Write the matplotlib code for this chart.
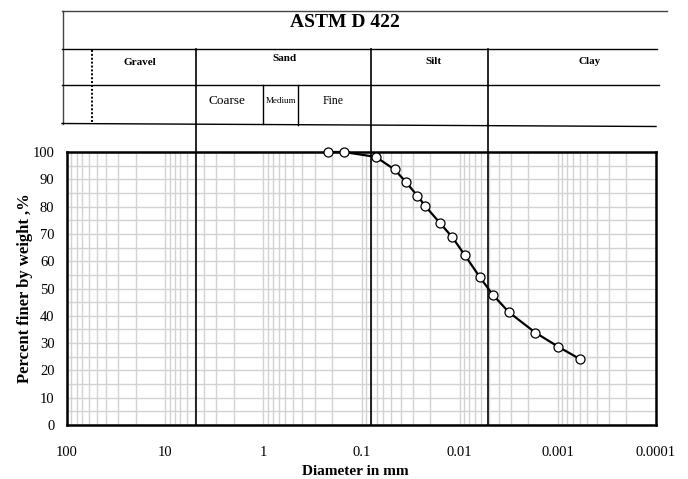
import matplotlib
matplotlib.use("Agg")
import matplotlib.pyplot as plt
from matplotlib.ticker import FixedLocator, LogLocator, NullFormatter

plt.rcParams['font.family'] = ['Liberation Serif', 'DejaVu Serif']

# hydrometer / sieve results
diameter_mm = [0.217, 0.151, 0.0715, 0.0461, 0.0351, 0.0269, 0.0223, 0.0158,
               0.0119, 0.00881, 0.00627, 0.00462, 0.00315, 0.00169, 0.000993,
               0.000593]
percent_finer = [100, 100, 98.2, 93.6, 88.9, 83.9, 80.1, 73.9,
                 68.8, 62.1, 54.3, 47.8, 41.3, 33.8, 28.7,
                 24.1]

x_ticks = [100, 10, 1, 0.1, 0.01, 0.001, 0.0001]
x_tick_labels = ['100', '10', '1', '0.1', '0.01', '0.001', '0.0001']
y_ticks = list(range(0, 101, 10))

# gravel/sand, sand/silt, silt/clay boundaries (mm)
class_limits = [4.8, 0.08, 0.0052]

W, H = 688, 479
fig = plt.figure(figsize=(W / 100, H / 100), dpi=100)

left, right, top, bottom = 67, 656, 152, 425
ax = fig.add_axes([left / W, (H - bottom) / H, (right - left) / W, (bottom - top) / H])

ax.set_xscale('log')
ax.set_xlim(100, 0.0001)
ax.set_ylim(0, 100)

ax.xaxis.set_major_locator(FixedLocator(x_ticks))
ax.set_xticklabels(x_tick_labels)
ax.xaxis.set_minor_locator(LogLocator(base=10, subs=range(2, 10), numticks=20))
ax.xaxis.set_minor_formatter(NullFormatter())
ax.set_yticks(y_ticks)
ax.set_yticks(range(5, 100, 10), minor=True)

ax.grid(which='both', color='#d2d2d2', linewidth=1.0)
ax.tick_params(which='both', length=0, labelsize=10.5)
ax.tick_params(axis='x', pad=15)
ax.tick_params(axis='y', pad=9)
for sp in ax.spines.values():
    sp.set_linewidth(1.8)

# class boundaries run up through the header table
header_top = (bottom - 48.5) / (bottom - top)
for d in class_limits:
    ax.axvline(d, 0, header_top, color='black', linewidth=1.2, clip_on=False, zorder=3)

ax.plot(diameter_mm, percent_finer, color='black', linewidth=1.6,
        marker='o', markersize=6.5, markerfacecolor='white',
        markeredgecolor='black', markeredgewidth=0.9, zorder=5, clip_on=False)

ax.set_xlabel('Diameter in mm', fontsize=11, fontweight='bold')
ax.xaxis.set_label_coords(0.49, -0.145)
ax.set_ylabel('Percent finer by weight ,%', fontsize=12, fontweight='bold')
ax.yaxis.set_label_coords(-0.058, 0.5)

# header table drawn in pixel coordinates
hdr = fig.add_axes([0, 0, 1, 1])
hdr.set_xlim(0, W)
hdr.set_ylim(H, 0)
hdr.axis('off')

def hline(x0, x1, y0, y1=None, **kw):
    hdr.plot([x0, x1], [y0, y0 if y1 is None else y1], **kw)

hline(62, 667, 10.5, color='#444444', linewidth=1.0)
hdr.plot([62.5, 62.5], [10.5, 124], color='#444444', linewidth=1.0)
hline(62, 657, 48.5, color='black', linewidth=1.0)
hline(62, 659, 84.5, color='black', linewidth=1.0)
hline(62, 656, 123.5, 126.5, color='black', linewidth=1.0)
hdr.plot([262.7, 262.7], [84.5, 124], color='black', linewidth=1.0)
hdr.plot([298.3, 298.3], [84.5, 124.5], color='black', linewidth=1.0)
hdr.plot([92.3, 92.3], [50, 123], color='black', linewidth=1.4, linestyle=(0, (1, 1)))

hdr.text(345, 22, 'ASTM D 422', ha='center', va='center', fontsize=14, fontweight='bold')
for label, x, y in [('Gravel', 140, 62.5), ('Sand', 284.7, 58.5),
                    ('Silt', 434, 61), ('Clay', 590, 61)]:
    hdr.text(x, y, label, ha='center', va='center', fontsize=8, fontweight='bold')
hdr.text(226.7, 100.5, 'Coarse', ha='center', va='center', fontsize=9.5)
hdr.text(280.5, 101, 'Medium', ha='center', va='center', fontsize=6.5)
hdr.text(332.7, 101, 'Fine', ha='center', va='center', fontsize=8.5)

fig.savefig('out.png', dpi=100)
